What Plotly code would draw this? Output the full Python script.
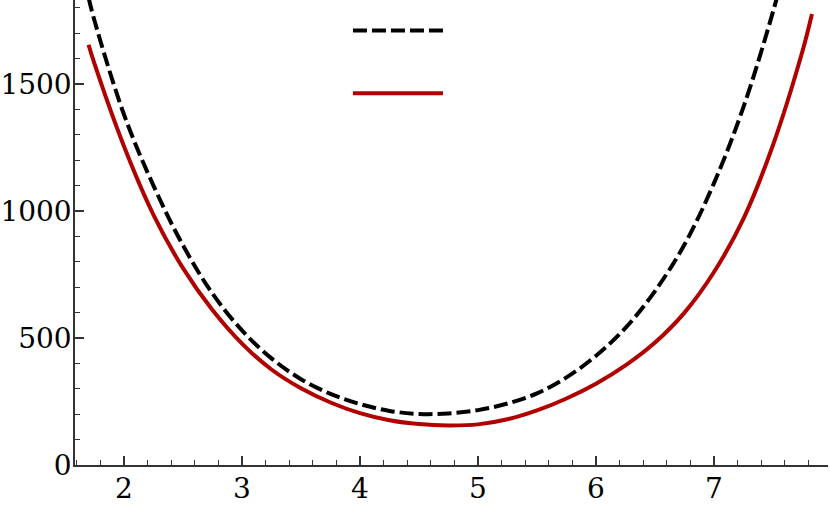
import plotly.graph_objects as go

# values
x_black = [1.70, 1.75, 2.00, 2.25, 2.50, 2.75, 3.00, 3.25, 3.50, 3.75, 4.00, 4.25, 4.50,
           4.75, 5.00, 5.25, 5.50, 5.75, 6.00, 6.25, 6.50, 6.75, 7.00, 7.25, 7.50, 7.60]
y_black = [1840, 1750, 1380, 1100, 865, 675, 530, 420, 338, 280, 240, 213, 201,
           203, 216, 242, 282, 345, 430, 540, 685, 868, 1110, 1410, 1785, 1960]

x_red = [1.70, 1.75, 2.00, 2.25, 2.50, 2.75, 3.00, 3.25, 3.50, 3.75, 4.00, 4.25, 4.50,
         4.75, 5.00, 5.25, 5.50, 5.75, 6.00, 6.25, 6.50, 6.75, 7.00, 7.25, 7.50, 7.75, 7.83]
y_red = [1655, 1580, 1255, 985, 775, 610, 478, 376, 302, 246, 204, 176, 161,
         156, 160, 180, 215, 262, 320, 392, 482, 600, 760, 970, 1260, 1630, 1776]

x_ticks = [2, 3, 4, 5, 6, 7]
y_ticks = [0, 500, 1000, 1500]

font = dict(family="DejaVu Serif", size=28, color="black")
axis_col = "#333333"

fig = go.Figure()
fig.add_trace(go.Scatter(x=x_black, y=y_black, mode="lines", name="", legendgroup="a",
                         line=dict(color="black", width=4, dash="14px,5px", shape="spline")))
fig.add_trace(go.Scatter(x=x_red, y=y_red, mode="lines", name="", legendgroup="b",
                         line=dict(color="#b00000", width=4, shape="spline")))

fig.update_xaxes(range=[1.585, 7.966], tickvals=x_ticks, showgrid=False, zeroline=False,
                 showline=True, linecolor=axis_col, linewidth=1.5, automargin=False,
                 ticks="inside", ticklen=9, tickwidth=1.5, tickcolor=axis_col,
                 minor=dict(dtick=0.2, ticks="inside", ticklen=5, tickcolor=axis_col, tickwidth=1.2),
                 tickfont=font, ticklabelstandoff=-2)
fig.update_yaxes(range=[0, 1831], tickvals=y_ticks, showgrid=False, zeroline=False,
                 showline=True, linecolor=axis_col, linewidth=1.5, automargin=False,
                 ticks="inside", ticklen=9, tickwidth=1.5, tickcolor=axis_col,
                 minor=dict(dtick=100, ticks="inside", ticklen=5, tickcolor=axis_col, tickwidth=1.2),
                 tickfont=font, ticklabelstandoff=-4)

fig.update_layout(
    width=830, height=511,
    margin=dict(l=75, r=2, t=0, b=46),
    plot_bgcolor="white", paper_bgcolor="white",
    font=font,
    showlegend=True,
    legend=dict(x=0.3625, y=0.985, xanchor="left", yanchor="top", itemwidth=90,
                traceorder="grouped", tracegroupgap=26, bgcolor="rgba(0,0,0,0)",
                font=dict(family="DejaVu Serif", size=26)),
)

# drop the page's default body margin so the figure sits at the window corner
fig.write_html("out.html", config={"displayModeBar": False},
               post_script="document.body.style.margin='0';")
